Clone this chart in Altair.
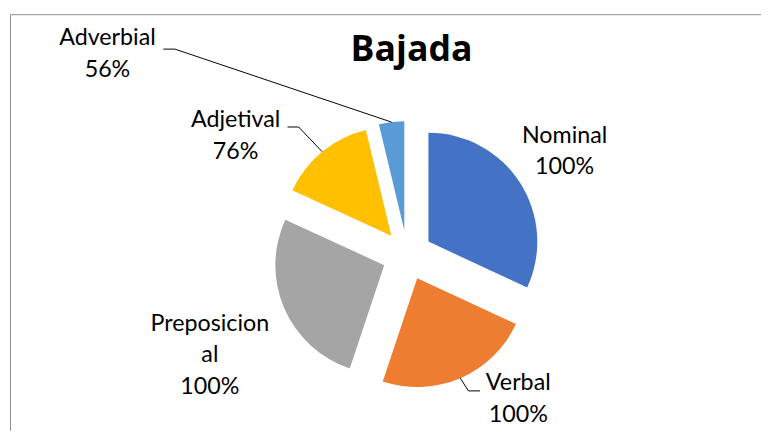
import altair as alt
import pandas as pd

# ---- data ----
title_text = "Bajada"
categories = ["Nominal", "Verbal", "Preposicional", "Adjetival", "Adverbial"]
values = [31.9, 23.2, 26.7, 14.4, 3.75]
pct_labels = ["100%", "100%", "100%", "76%", "56%"]
label_names = ["Nominal", "Verbal", "Preposicion\nal", "Adjetival", "Adverbial"]
colors = ["#4472C4", "#ED7D31", "#A5A5A5", "#FFC000", "#5B9BD5"]

# ---- layout (chart pixel space) ----
CX, CY, R, EXPLODE = 403.5, 247.5, 110, 25.4
label_x = [562.5, 515.7, 204, 230, 100.5]
label_y = [133.7, 383.7, 323.7, 118, 35.3]
elbow_x = [None, 465.3, None, 293.7, 168.7]
elbow_y = [None, 384.7, None, 118, 39.3]
tail_x = [None, 477, None, 282.5, 157]
W, H = 761, 425

df = pd.DataFrame({
    "category": categories,
    "value": values,
    "order": list(range(len(categories))),
    "label": [f"{n}\n{p}" for n, p in zip(label_names, pct_labels)],
    "lx": label_x,
    "ly": label_y,
    "ex": elbow_x,
    "ey": elbow_y,
    "tx": tail_x,
})

base = (
    alt.Chart(df)
    .transform_joinaggregate(total="sum(value)")
    .transform_window(cum="sum(value)", sort=[alt.SortField("order")], frame=[None, 0])
    .transform_calculate(
        t0="(datum.cum - datum.value) / datum.total * 2 * PI",
        t1="datum.cum / datum.total * 2 * PI",
    )
    .transform_calculate(mid="(datum.t0 + datum.t1) / 2")
    .transform_calculate(
        ax=f"{CX} + {EXPLODE} * sin(datum.mid)",
        ay=f"{CY} - {EXPLODE} * cos(datum.mid)",
    )
    .transform_calculate(
        mx=f"datum.ax + {R} * sin(datum.mid)",
        my=f"datum.ay - {R} * cos(datum.mid)",
    )
)

arcs = base.mark_arc(outerRadius=R).encode(
    x=alt.X("ax:Q", scale=None),
    y=alt.Y("ay:Q", scale=None),
    theta=alt.Theta("t0:Q", scale=None, stack=None),
    theta2=alt.Theta2("t1:Q"),
    color=alt.Color("category:N", scale=alt.Scale(domain=categories, range=colors), legend=None),
)

labels = base.mark_text(
    font="Lato", fontSize=23.5, lineBreak="\n", lineHeight=32,
    align="center", baseline="alphabetic", color="#000000",
).encode(
    x=alt.X("lx:Q", scale=None),
    y=alt.Y("ly:Q", scale=None),
    text="label:N",
)

leader_diag = base.transform_filter("isValid(datum.ex)").mark_rule(color="#000000", strokeWidth=1).encode(
    x=alt.X("ex:Q", scale=None),
    y=alt.Y("ey:Q", scale=None),
    x2="mx:Q",
    y2="my:Q",
)
leader_hor = base.transform_filter("isValid(datum.ex)").mark_rule(color="#000000", strokeWidth=1).encode(
    x=alt.X("tx:Q", scale=None),
    x2="ex:Q",
    y=alt.Y("ey:Q", scale=None),
)

title = alt.Chart(pd.DataFrame({"t": [title_text]})).mark_text(
    font="Open Sans", fontSize=36, fontWeight="bold", align="center", baseline="alphabetic", color="#000000"
).encode(x=alt.value(407.8), y=alt.value(51.3), text="t:N")

frame_df = pd.DataFrame({"a": [0]})
frame_top = alt.Chart(frame_df).mark_rule(color="#8c8c8c", strokeWidth=1).encode(
    x=alt.value(2.5), x2=alt.value(W), y=alt.value(4.5)
)
frame_left = alt.Chart(frame_df).mark_rule(color="#8c8c8c", strokeWidth=1).encode(
    x=alt.value(2.5), y=alt.value(4.5), y2=alt.value(H)
)

chart = (
    alt.layer(frame_top, frame_left, arcs, leader_diag, leader_hor, labels, title)
    .properties(width=W, height=H, padding=0, autosize="none")
    .configure_view(stroke=None)
)

chart.save("out.html", embed_options={"renderer": "svg", "actions": False})
